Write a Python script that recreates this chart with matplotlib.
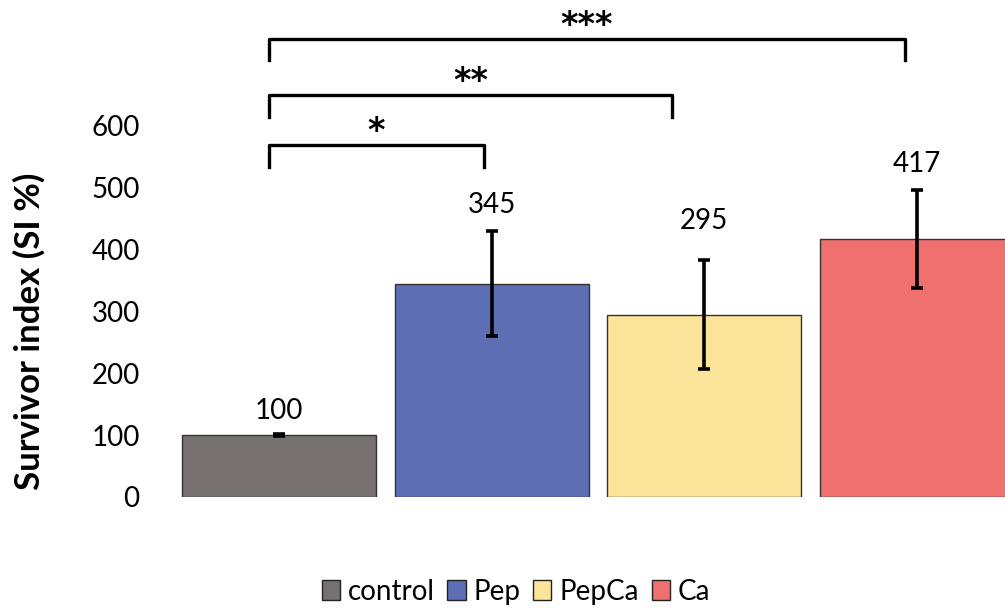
import matplotlib
matplotlib.use("Agg")
import matplotlib.pyplot as plt
from matplotlib.patches import Patch

# data
groups = ["control", "Pep", "PepCa", "Ca"]
values = [100, 345, 295, 417]
errors = [2, 85, 88, 79]
colors = ["#767171", "#5E6EB4", "#FDE49B", "#F07070"]

# significance brackets: (left x, right x, bar height, stars)
brackets = [
    (-0.05, 0.965, 569, "*"),
    (-0.05, 1.85, 650, "**"),
    (-0.05, 2.945, 741, "***"),
]

plt.rcParams["font.family"] = ["Lato", "DejaVu Sans"]

fig = plt.figure(figsize=(10.05, 6.14), dpi=100)
ax = fig.add_axes([0.1721, 0.1906, 0.8458, 0.6042])

xs = list(range(len(groups)))
ax.bar(xs, values, width=0.913, color=colors, edgecolor="#333333", linewidth=1.0)
ax.errorbar(xs, values, yerr=errors, fmt="none", ecolor="black",
            elinewidth=2.6, capsize=4, capthick=2.6)

label_y = [139, 472, 446, 538]
for x, v, ly in zip(xs, values, label_y):
    ax.text(x, ly, str(v), ha="center", va="center", fontsize=20)

leg_drop = 35
for x1, x2, y, stars in brackets:
    ax.plot([x1, x1, x2, x2], [y - leg_drop, y, y, y - leg_drop], color="black",
            linewidth=2.4, clip_on=False, solid_joinstyle="round")
    ax.text((x1 + x2) / 2, y + 22, stars, ha="center", va="center",
            fontsize=24, fontweight="bold", family="DejaVu Sans", clip_on=False)

ax.set_xlim(-0.5, 3.5)
ax.set_ylim(0, 600)
ax.set_yticks(range(0, 601, 100))
ax.set_xticks([])
ax.tick_params(axis="y", length=0, labelsize=20, pad=24)
for s in ax.spines.values():
    s.set_visible(False)
ax.set_ylabel("Survivor index (SI %)", fontsize=25, fontweight="bold", va="center")
ax.yaxis.set_label_coords((29 - 173) / 850, (497 - 331) / 371)

handles = [Patch(facecolor=c, edgecolor="#222222", linewidth=1.0) for c in colors]
fig.legend(handles, groups, loc="center", bbox_to_anchor=(516 / 1005, 1 - 592 / 614),
           ncol=4, frameon=False, fontsize=20, handlelength=0.65, handleheight=0.75,
           handletextpad=0.3, columnspacing=0.45)

fig.savefig("out.png", dpi=100)
